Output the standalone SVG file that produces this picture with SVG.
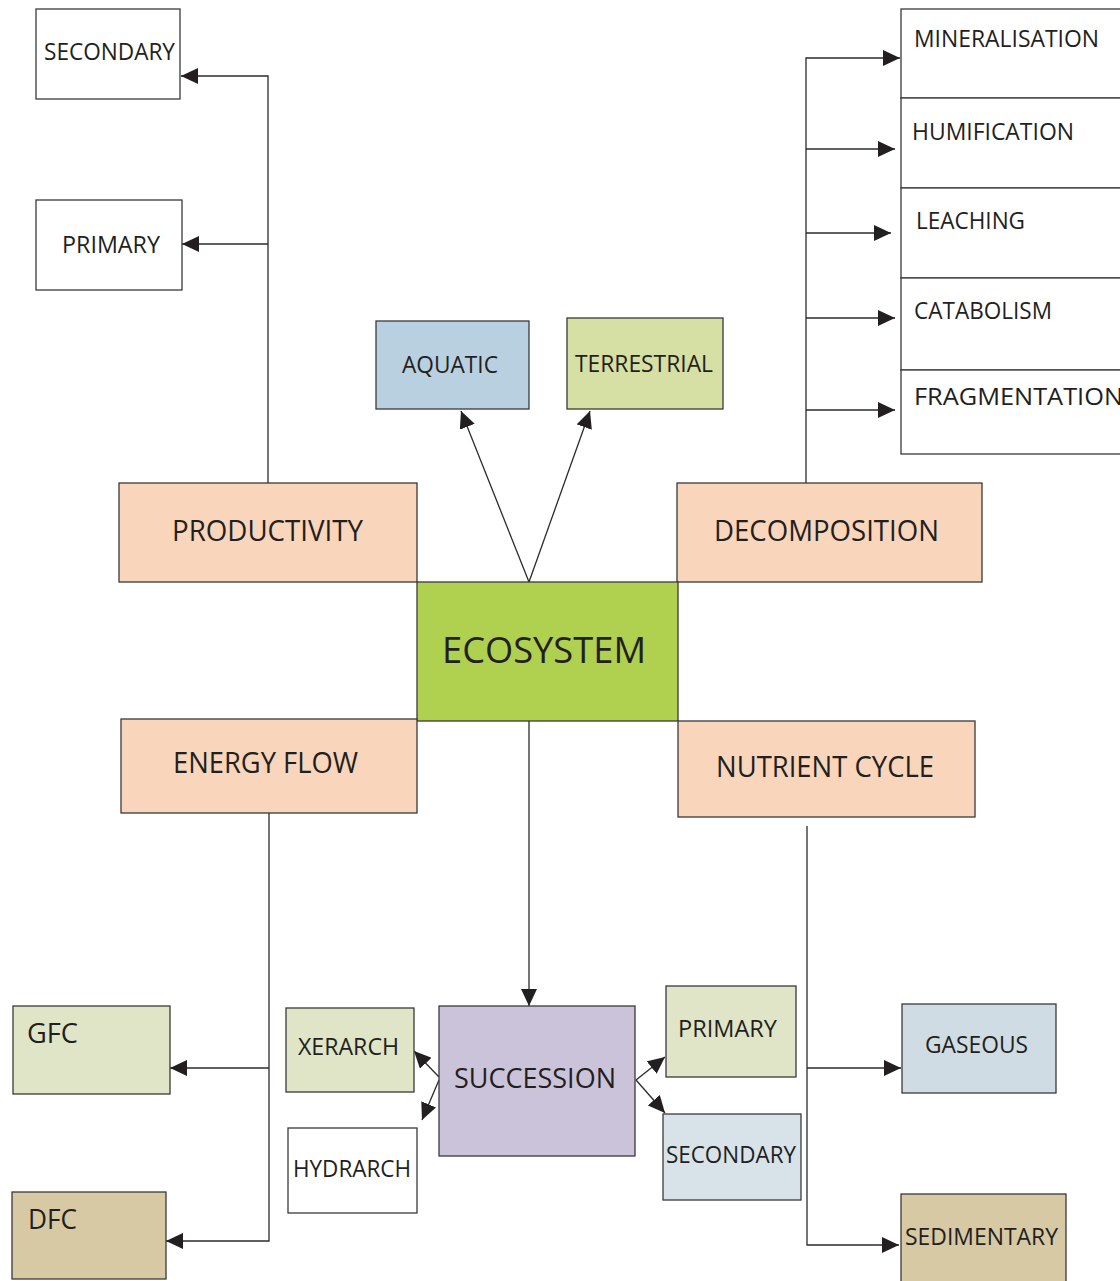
<svg xmlns="http://www.w3.org/2000/svg" width="1120" height="1281" viewBox="0 0 1120 1281">
<style>
.b{stroke:#3a3a3a;stroke-width:1.3}
.t{font-family:"Open Sans","Noto Sans",sans-serif;fill:#231f20}
.s{font-size:24px}
.m{font-size:29px}
.c{fill:none;stroke:#2b2b2b;stroke-width:1.3}
</style>
<defs>
<marker id="ah" markerUnits="userSpaceOnUse" markerWidth="17" markerHeight="16" refX="17" refY="8" orient="auto">
<path d="M0,0 L17,8 L0,16 z" fill="#231f20"/>
</marker>
</defs>
<rect width="1120" height="1281" fill="#ffffff"/>
<g id="connectors">
<path class="c" d="M268,483 V76 H181" marker-end="url(#ah)"/>
<path class="c" d="M268,244 H182" marker-end="url(#ah)"/>
<path class="c" d="M529,582 L461,411" marker-end="url(#ah)"/>
<path class="c" d="M529,582 L590,411" marker-end="url(#ah)"/>
<path class="c" d="M806,483 V58 H900" marker-end="url(#ah)"/>
<path class="c" d="M806,149 H895" marker-end="url(#ah)"/>
<path class="c" d="M806,233 H891" marker-end="url(#ah)"/>
<path class="c" d="M806,318 H895" marker-end="url(#ah)"/>
<path class="c" d="M806,410 H895" marker-end="url(#ah)"/>
<path class="c" d="M529,721 V1006" marker-end="url(#ah)"/>
<path class="c" d="M269,813 V1241 H166" marker-end="url(#ah)"/>
<path class="c" d="M269,1068 H170" marker-end="url(#ah)"/>
<path class="c" d="M807,826 V1245 H899" marker-end="url(#ah)"/>
<path class="c" d="M807,1068 H901" marker-end="url(#ah)"/>
<path class="c" d="M439,1077 L414,1051" marker-end="url(#ah)"/>
<path class="c" d="M439,1080 L422,1120" marker-end="url(#ah)"/>
<path class="c" d="M636,1080 L665,1057" marker-end="url(#ah)"/>
<path class="c" d="M636,1080 L665,1113" marker-end="url(#ah)"/>
</g>
<g id="secondary-top"><rect class="b" x="36" y="9" width="144" height="90" fill="#ffffff"/><text class="t s" x="44" y="60" textLength="131" lengthAdjust="spacingAndGlyphs">SECONDARY</text></g>
<g id="primary-top"><rect class="b" x="36" y="200" width="146" height="90" fill="#ffffff"/><text class="t s" x="62" y="253" textLength="98" lengthAdjust="spacingAndGlyphs">PRIMARY</text></g>
<g id="aquatic"><rect class="b" x="376" y="321" width="153" height="88" fill="#b8d0e0"/><text class="t s" x="402" y="373" textLength="96" lengthAdjust="spacingAndGlyphs">AQUATIC</text></g>
<g id="terrestrial"><rect class="b" x="567" y="318" width="156" height="91" fill="#d6dfa4"/><text class="t s" x="575" y="372" textLength="138" lengthAdjust="spacingAndGlyphs">TERRESTRIAL</text></g>
<g id="productivity"><rect class="b" x="119" y="483" width="298" height="99" fill="#f8d5bb"/><text class="t m" x="172" y="541" textLength="191" lengthAdjust="spacingAndGlyphs">PRODUCTIVITY</text></g>
<g id="decomposition"><rect class="b" x="677" y="483" width="305" height="99" fill="#f8d5bb"/><text class="t m" x="714" y="541" textLength="225" lengthAdjust="spacingAndGlyphs">DECOMPOSITION</text></g>
<g id="ecosystem"><rect class="b" x="417" y="582" width="261" height="139" fill="#b0d050"/><text class="t" font-size="37" x="442" y="663" textLength="204" lengthAdjust="spacingAndGlyphs">ECOSYSTEM</text></g>
<g id="energy-flow"><rect class="b" x="121" y="719" width="296" height="94" fill="#f8d5bb"/><text class="t m" x="173" y="773" textLength="185" lengthAdjust="spacingAndGlyphs">ENERGY FLOW</text></g>
<g id="nutrient-cycle"><rect class="b" x="678" y="721" width="297" height="96" fill="#f8d5bb"/><text class="t m" x="716" y="777" textLength="218" lengthAdjust="spacingAndGlyphs">NUTRIENT CYCLE</text></g>
<g id="mineralisation"><rect class="b" x="901" y="9" width="240" height="89" fill="#ffffff"/><text class="t s" x="914" y="47" textLength="185" lengthAdjust="spacingAndGlyphs">MINERALISATION</text></g>
<g id="humification"><rect class="b" x="901" y="98" width="240" height="90" fill="#ffffff"/><text class="t s" x="912" y="140" textLength="162" lengthAdjust="spacingAndGlyphs">HUMIFICATION</text></g>
<g id="leaching"><rect class="b" x="901" y="188" width="240" height="90" fill="#ffffff"/><text class="t s" x="916" y="229" textLength="109" lengthAdjust="spacingAndGlyphs">LEACHING</text></g>
<g id="catabolism"><rect class="b" x="901" y="278" width="240" height="92" fill="#ffffff"/><text class="t s" x="914" y="319" textLength="138" lengthAdjust="spacingAndGlyphs">CATABOLISM</text></g>
<g id="fragmentation"><rect class="b" x="901" y="370" width="240" height="84" fill="#ffffff"/><text class="t s" x="914" y="405" textLength="209" lengthAdjust="spacingAndGlyphs">FRAGMENTATION</text></g>
<g id="succession"><rect class="b" x="439" y="1006" width="196" height="150" fill="#cbc3d9"/><text class="t" font-size="27" x="454" y="1088" textLength="162" lengthAdjust="spacingAndGlyphs">SUCCESSION</text></g>
<g id="xerarch"><rect class="b" x="286" y="1008" width="128" height="84" fill="#e0e5c8"/><text class="t" font-size="23" x="298" y="1055" textLength="101" lengthAdjust="spacingAndGlyphs">XERARCH</text></g>
<g id="hydrarch"><rect class="b" x="288" y="1128" width="129" height="85" fill="#ffffff"/><text class="t" font-size="23" x="293" y="1177" textLength="118" lengthAdjust="spacingAndGlyphs">HYDRARCH</text></g>
<g id="primary-bottom"><rect class="b" x="666" y="986" width="130" height="91" fill="#e0e5c8"/><text class="t" font-size="23" x="678" y="1037" textLength="99" lengthAdjust="spacingAndGlyphs">PRIMARY</text></g>
<g id="secondary-bottom"><rect class="b" x="663" y="1114" width="138" height="86" fill="#d8e3e9"/><text class="t" font-size="23" x="666" y="1163" textLength="130" lengthAdjust="spacingAndGlyphs">SECONDARY</text></g>
<g id="gfc"><rect class="b" x="13" y="1006" width="157" height="88" fill="#e0e5c8"/><text class="t" font-size="28" x="27" y="1043" textLength="51" lengthAdjust="spacingAndGlyphs">GFC</text></g>
<g id="dfc"><rect class="b" x="12" y="1192" width="154" height="87" fill="#d6c9a3"/><text class="t" font-size="28" x="28" y="1229" textLength="49" lengthAdjust="spacingAndGlyphs">DFC</text></g>
<g id="gaseous"><rect class="b" x="902" y="1004" width="154" height="89" fill="#cfdce4"/><text class="t" font-size="23" x="925" y="1053" textLength="103" lengthAdjust="spacingAndGlyphs">GASEOUS</text></g>
<g id="sedimentary"><rect class="b" x="901" y="1194" width="165" height="95" fill="#d6c9a3"/><text class="t" font-size="23" x="905" y="1245" textLength="153" lengthAdjust="spacingAndGlyphs">SEDIMENTARY</text></g>
</svg>
